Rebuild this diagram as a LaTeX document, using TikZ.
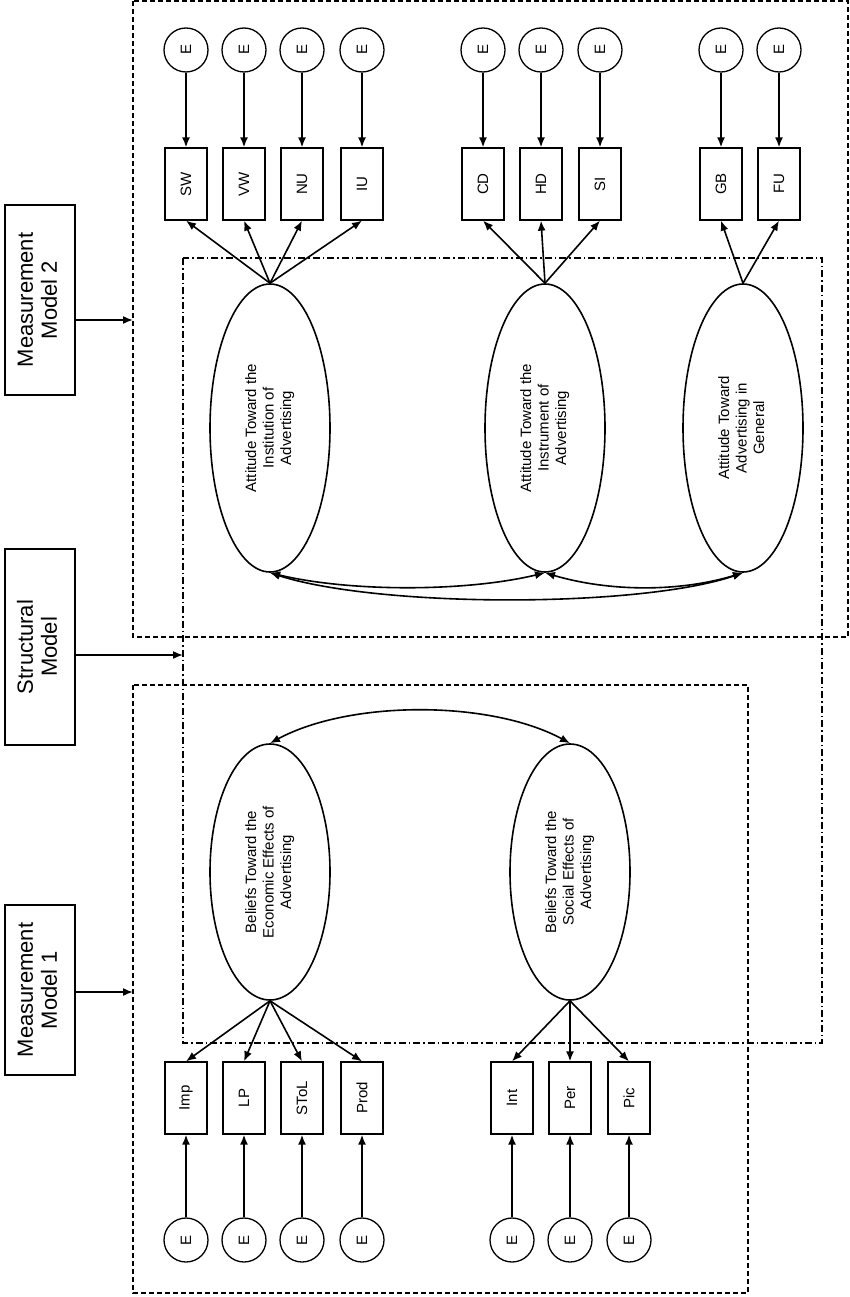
\documentclass[tikz,border=0pt]{standalone}
\usepackage{fontspec}
\setmainfont{Liberation Sans}
\usetikzlibrary{shapes.geometric,arrows.meta}
\begin{document}
\begin{tikzpicture}[x=1pt,y=-1pt,line width=1.3pt,
  lbl/.style={draw,line width=1.4pt,minimum width=70,font=\fontsize{22}{24}\selectfont},
  ind/.style={draw,minimum width=42,minimum height=72,font=\fontsize{15}{17}\selectfont},
  err/.style={draw,circle,minimum size=44,inner sep=0,font=\fontsize{15}{17}\selectfont},
  lat/.style={draw,line width=1.6pt,ellipse,minimum width=120,minimum height=288,inner sep=0,font=\fontsize{15}{17.5}\selectfont},
  arr/.style={line width=1.6pt,-{Latex[length=10pt,width=8pt]}},
  darr/.style={line width=1.6pt,{Latex[length=10pt,width=8pt]}-{Latex[length=10pt,width=8pt]}}]
\useasboundingbox (0,0) rectangle (850,1297);
% frames
\draw[line width=1.3pt,dash pattern=on 5pt off 3pt] (133,1) rectangle (848,637);
\draw[line width=1.3pt,dash pattern=on 5pt off 3pt] (133,685) rectangle (748,1293);
\draw[line width=1.3pt,dash pattern=on 7pt off 3pt on 1.5pt off 3pt] (183,258) rectangle (822,1043);
\coordinate (f2) at (133,320);
\coordinate (fs) at (183,655);
\coordinate (f1) at (133,992);
% labels
\node[lbl,minimum height=190] (m2) at (40,300) {\rotatebox{90}{\begin{tabular}{c}Measurement\\Model 2\end{tabular}}};
\node[lbl,minimum height=196] (sm) at (40,647) {\rotatebox{90}{\begin{tabular}{c}Structural\\Model\end{tabular}}};
\node[lbl,minimum height=170] (m1) at (40,990) {\rotatebox{90}{\begin{tabular}{c}Measurement\\Model 1\end{tabular}}};
\draw[arr] (m2.east|-f2) -- (f2);
\draw[arr] (sm.east|-fs) -- (fs);
\draw[arr] (m1.east|-f1) -- (f1);
% latent
\node[lat] (inst) at (270,428) {\rotatebox{90}{\begin{tabular}{c}Attitude Toward the\\Institution of\\Advertising\end{tabular}}};
\node[lat] (instr) at (545,428) {\rotatebox{90}{\begin{tabular}{c}Attitude Toward the\\Instrument of\\Advertising\end{tabular}}};
\node[lat] (gen) at (743,428) {\rotatebox{90}{\begin{tabular}{c}Attitude Toward\\Advertising in\\General\end{tabular}}};
\node[lat,minimum height=256] (econ) at (270,872) {\rotatebox{90}{\begin{tabular}{c}Beliefs Toward the\\Economic Effects of\\Advertising\end{tabular}}};
\node[lat,minimum height=256] (soc) at (570,872) {\rotatebox{90}{\begin{tabular}{c}Beliefs Toward the\\Social Effects of\\Advertising\end{tabular}}};
% upper indicators
\foreach \n/\x/\l in {sw/186/SW,vw/244/VW,nu/302/NU,iu/362/IU,cd/483/CD,hd/541/HD,si/600/SI,gb/721/GB,fu/779/FU}{
  \node[ind] (\n) at (\x,184) {\rotatebox{90}{\l}};
  \node[err] (e\n) at (\x,50) {\rotatebox{90}{E}};
  \draw[arr] (e\n) -- (\n);
}
\foreach \n in {sw,vw,nu,iu}{\draw[arr] (inst.north) -- (\n.south);}
\foreach \n in {cd,hd,si}{\draw[arr] (instr.north) -- (\n.south);}
\foreach \n in {gb,fu}{\draw[arr] (gen.north) -- (\n.south);}
% lower indicators
\foreach \n/\x/\l in {imp/186/Imp,lp/244/LP,stol/302/SToL,prod/362/Prod,int/512/Int,per/570/Per,pic/629/Pic}{
  \node[ind] (\n) at (\x,1098) {\rotatebox{90}{\l}};
  \node[err] (e\n) at (\x,1240) {\rotatebox{90}{E}};
  \draw[arr] (e\n) -- (\n);
}
\foreach \n in {imp,lp,stol,prod}{\draw[arr] (econ.south) -- (\n.north);}
\foreach \n in {int,per,pic}{\draw[arr] (soc.south) -- (\n.north);}
% correlations
\draw[darr] (econ.north) .. controls (350,700) and (490,700) .. (soc.north);
\draw[darr] (inst.south) .. controls (350,592) and (465,592) .. (instr.south);
\draw[darr] (inst.south) .. controls (380,608) and (640,608) .. (gen.south);
\draw[darr] (instr.south) .. controls (610,592) and (680,592) .. (gen.south);
\end{tikzpicture}
\end{document}
